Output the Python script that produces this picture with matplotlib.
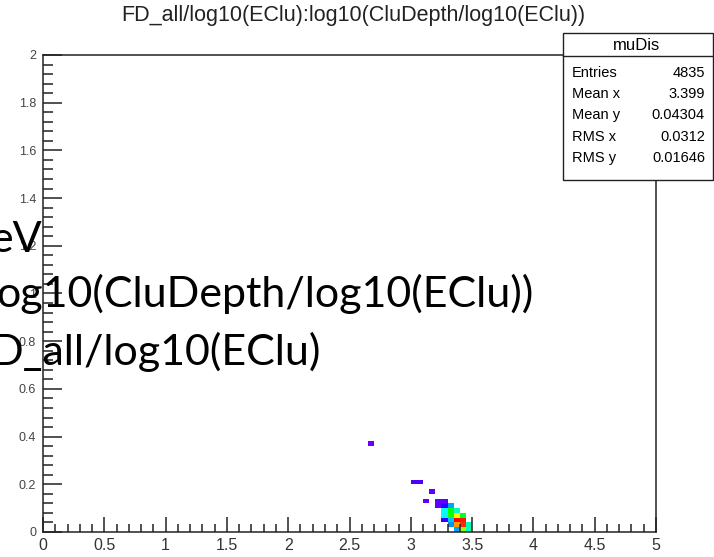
import numpy as np
import matplotlib
matplotlib.use("Agg")
import matplotlib.pyplot as plt
from matplotlib.colors import LinearSegmentedColormap
from matplotlib.patches import Rectangle
from matplotlib.lines import Line2D
from matplotlib.ticker import MultipleLocator, FuncFormatter

# ---------------- data ----------------
title = "FD_all/log10(EClu):log10(CluDepth/log10(EClu))"
hist_name = "muDis"
stats_labels = ["Entries", "Mean x", "Mean y", "RMS x", "RMS y"]
stats_values = ["4835", "3.399", "0.04304", "0.0312", "0.01646"]
overlay_lines = ["eV", "og10(CluDepth/log10(EClu))", "D_all/log10(EClu)"]

# lower edges of filled bins (bin size 0.05 x 0.02) and their contents
cell_x = [2.65, 3.00, 3.05, 3.15, 3.10, 3.20, 3.25, 3.20,
          3.25, 3.30,
          3.25, 3.30, 3.35,
          3.25, 3.30, 3.35, 3.40,
          3.25, 3.30, 3.35, 3.40,
          3.30, 3.35, 3.40, 3.45,
          3.35, 3.40, 3.45]
cell_y = [0.36, 0.20, 0.20, 0.16, 0.12, 0.12, 0.12, 0.10,
          0.10, 0.10,
          0.08, 0.08, 0.08,
          0.06, 0.06, 0.06, 0.06,
          0.04, 0.04, 0.04, 0.04,
          0.02, 0.02, 0.02, 0.02,
          0.00, 0.00, 0.00]
cell_n = [3, 35, 35, 12, 12, 15, 18, 16,
          55, 140,
          200, 330, 250,
          195, 340, 470, 320,
          55, 160, 600, 590,
          130, 530, 580, 260,
          140, 400, 255]

x_range = (0.0, 5.0)
y_range = (0.0, 2.0)
n_xbins = 100
n_ybins = 100

palette = ["#6a00ff", "#2a00ff", "#0099ff", "#00ffff", "#00ffaa",
           "#00ff00", "#99ff00", "#ffff00", "#ff9900", "#ff0000"]

# ---------------- figure ----------------
W, Hpx = 714, 557
fig = plt.figure(figsize=(W / 100, Hpx / 100), dpi=100)
fig.patch.set_facecolor("white")

def fx(px):
    return px / W

def fy(py):
    return 1 - py / Hpx

ax_l, ax_r, ax_t, ax_b = 43, 656, 55, 532
ax = fig.add_axes([fx(ax_l), fy(ax_b), (ax_r - ax_l) / W, (ax_b - ax_t) / Hpx])

x_edges = np.linspace(x_range[0], x_range[1], n_xbins + 1)
y_edges = np.linspace(y_range[0], y_range[1], n_ybins + 1)
bw = (x_range[1] - x_range[0]) / n_xbins
bh = (y_range[1] - y_range[0]) / n_ybins
H, _, _ = np.histogram2d(np.array(cell_x) + bw / 2, np.array(cell_y) + bh / 2,
                         bins=[x_edges, y_edges], weights=cell_n)
H = np.ma.masked_equal(H.T, 0)

cmap = LinearSegmentedColormap.from_list("rootpal", palette)
ax.pcolormesh(x_edges, y_edges, H, cmap=cmap, vmin=0, vmax=max(cell_n))

ax.set_xlim(*x_range)
ax.set_ylim(*y_range)

for s in ax.spines.values():
    s.set_linewidth(1.1)
    s.set_color("#222222")

ax.xaxis.set_major_locator(MultipleLocator(0.5))
ax.xaxis.set_minor_locator(MultipleLocator(0.1))
ax.yaxis.set_major_locator(MultipleLocator(0.2))
ax.yaxis.set_minor_locator(MultipleLocator(0.04))
fmt = FuncFormatter(lambda v, p: ("%g" % round(v, 3)))
ax.xaxis.set_major_formatter(fmt)
ax.yaxis.set_major_formatter(fmt)

ax.tick_params(which="both", direction="in", top=False, right=False,
               color="#222222", width=1.1)
ax.xaxis.set_tick_params(which="major", length=10.5, pad=4,
                         labelsize=11.5, labelcolor="#333333")
ax.xaxis.set_tick_params(which="minor", length=5.5)
ax.yaxis.set_tick_params(which="major", length=14, pad=5,
                         labelsize=9, labelcolor="#444444")
ax.yaxis.set_tick_params(which="minor", length=7)
for lab in ax.get_xticklabels() + ax.get_yticklabels():
    lab.set_family("Liberation Sans")

# title
fig.text(fx(353), fy(16), title, ha="center", va="center",
         fontsize=15.5, family="Liberation Sans", color="#222222")

# stats box
bx0, bx1, by0, by1, bsep = 563, 713, 33, 180, 56
fig.patches.append(Rectangle((fx(bx0), fy(by1)), (bx1 - bx0) / W, (by1 - by0) / Hpx,
                             transform=fig.transFigure, facecolor="white",
                             edgecolor="#222222", lw=1.0, zorder=5))
fig.lines.append(Line2D([fx(bx0), fx(bx1)], [fy(bsep), fy(bsep)],
                        transform=fig.transFigure, color="#222222", lw=1.0, zorder=6))
fig.text(fx((bx0 + bx1) / 2 - 1), fy((by0 + bsep) / 2 + 1), hist_name, ha="center",
         va="center", fontsize=12, family="Liberation Sans", zorder=7)
row_y0, row_dy = 73, 21.2
for i, (lab, val) in enumerate(zip(stats_labels, stats_values)):
    yy = fy(row_y0 + i * row_dy)
    fig.text(fx(572), yy, lab, ha="left", va="center", fontsize=10.5,
             family="Liberation Sans", zorder=7)
    fig.text(fx(705), yy, val, ha="right", va="center", fontsize=10.5,
             family="Liberation Sans", zorder=7)

# overlay text (cropped slide text)
ov_x = [42, -4, -10]
ov_ha = ["right", "left", "left"]
ov_base = [252, 307, 365]
for txt, xx, ha, yb in zip(overlay_lines, ov_x, ov_ha, ov_base):
    fig.text(fx(xx), fy(yb), txt, ha=ha, va="baseline", fontsize=31,
             family="Lato", color="black", zorder=8)

fig.savefig("out.png", dpi=100)
